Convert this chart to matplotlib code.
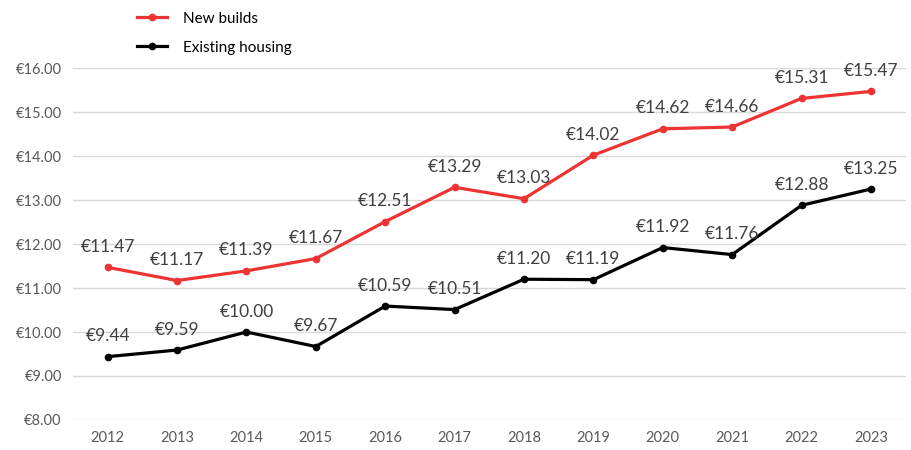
import matplotlib
matplotlib.use("Agg")
import matplotlib.pyplot as plt

plt.rcParams['font.family'] = ['Lato', 'DejaVu Sans']

years = ["2012", "2013", "2014", "2015", "2016", "2017",
         "2018", "2019", "2020", "2021", "2022", "2023"]
new_builds = [11.47, 11.17, 11.39, 11.67, 12.51, 13.29,
              13.03, 14.02, 14.62, 14.66, 15.31, 15.47]
existing = [9.44, 9.59, 10.00, 9.67, 10.59, 10.51,
            11.20, 11.19, 11.92, 11.76, 12.88, 13.25]
y_ticks = [8, 9, 10, 11, 12, 13, 14, 15, 16]

fig = plt.figure(figsize=(9.12, 4.5), dpi=100)
ax = fig.add_axes([0.08, 0.0667, 0.913, 0.782])

x = list(range(len(years)))
l1, = ax.plot(x, new_builds, color="#ee3333", lw=2.3, marker="o", ms=4.5,
              label="New builds", zorder=3)
l2, = ax.plot(x, existing, color="black", lw=2.3, marker="o", ms=4.5,
              label="Existing housing", zorder=3)

for xi, v in zip(x, new_builds):
    ax.annotate(f"€{v:.2f}", (xi, v), xytext=(0, 9), textcoords="offset points",
                ha="center", va="bottom", fontsize=12.5, color="#404040")
for xi, v in zip(x, existing):
    ax.annotate(f"€{v:.2f}", (xi, v), xytext=(0, 9), textcoords="offset points",
                ha="center", va="bottom", fontsize=12.5, color="#404040")

ax.set_xlim(-0.5, len(years) - 0.5)
ax.set_ylim(8, 16)
ax.set_yticks(y_ticks)
ax.set_yticklabels([f"€{t:.2f}" for t in y_ticks])
ax.set_xticks(x)
ax.set_xticklabels(years)
ax.tick_params(length=0, labelsize=10.5, colors="#595959", pad=8)
ax.grid(axis="y", color="#d9d9d9", lw=1)
ax.set_axisbelow(True)
for s in ax.spines.values():
    s.set_visible(False)

fig.legend(handles=[l1, l2], loc="upper left", bbox_to_anchor=(0.135, 1.005),
           frameon=False, fontsize=11, handlelength=2.0, labelspacing=1.0,
           handletextpad=1.0)

fig.savefig("out.png", dpi=100)
